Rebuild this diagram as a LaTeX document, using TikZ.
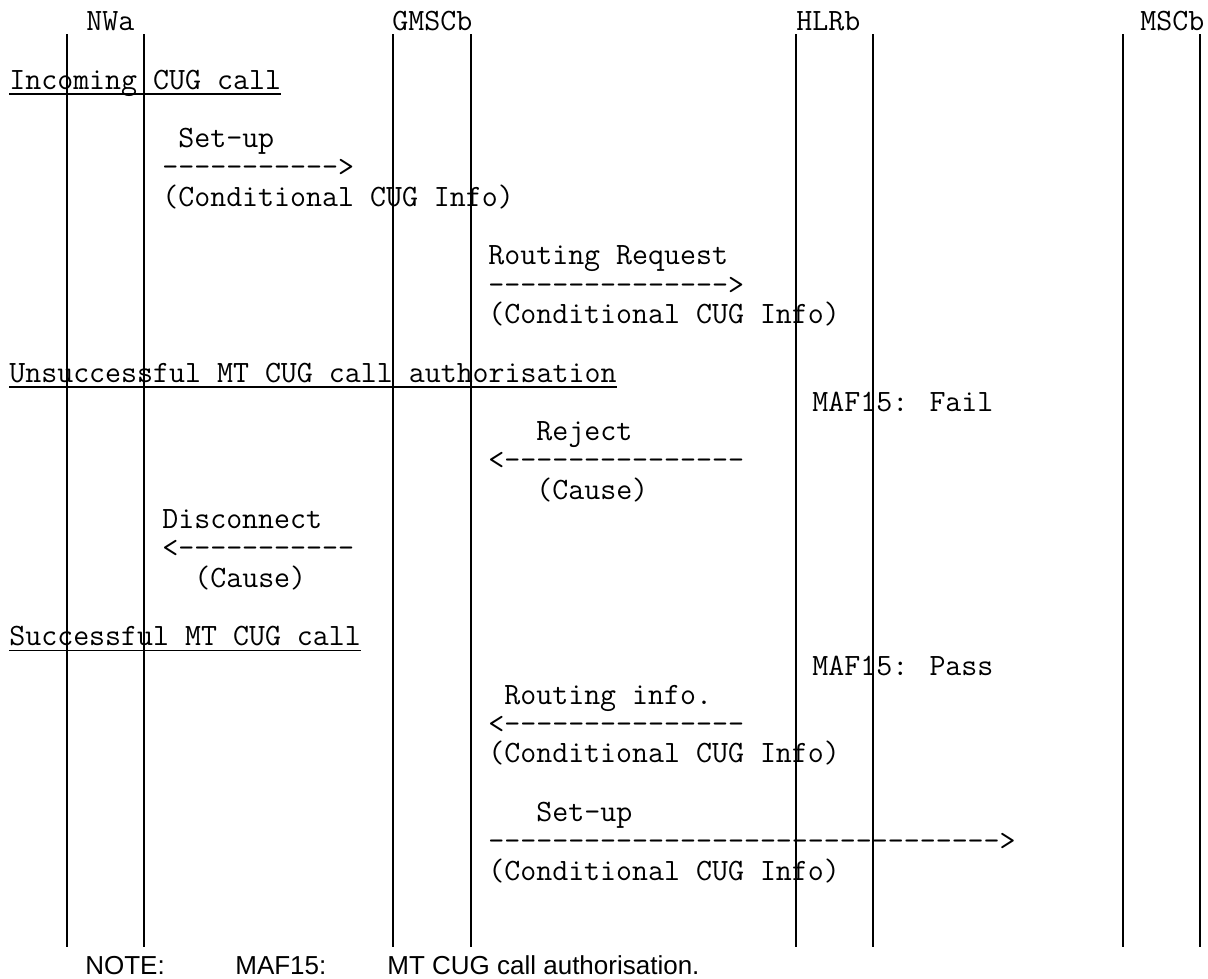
\documentclass[tikz,border=0pt]{standalone}
\usepackage{fontspec}
\newfontfamily\notefont{Liberation Sans}
\usepackage{tikz}
\usetikzlibrary{positioning}

\begin{document}
\begin{tikzpicture}[
        x=0.02cm, y=-0.02cm,
        lifeline/.style={line width=0.8pt},
        msg/.style={font=\ttfamily\fontsize{17.66}{20}\selectfont, inner sep=0pt, anchor=base west},
        notetext/.style={font=\notefont\fontsize{14.8}{18}\selectfont, inner sep=0pt, anchor=base west},
        uline/.style={line width=0.8pt}
    ]
        \useasboundingbox (0,0) rectangle (1208,978);

        % Lifelines
        \foreach \n/\x in {nwaL/67, nwaR/144, gmscL/393, gmscR/471, hlrL/796, hlrR/873, mscL/1123, mscR/1200} {
            \coordinate (\n-t) at (\x,34);
            \coordinate (\n-b) at (\x,947);
            \draw[lifeline] (\n-t) -- (\n-b);
        }

        % Entities
        \node[msg] (nwa) at (86,30) {NWa};
        \node[msg] (gmsc) at (392,30) {GMSCb};
        \node[msg] (hlr) at (796,30) {HLRb};
        \node[msg] (msc) at (1140,30) {MSCb};

        % Incoming CUG call
        \node[msg] (secIn) at (9,89) {Incoming CUG call};
        \draw[uline] ([yshift=-0.1cm]secIn.base west) -- ([yshift=-0.1cm]secIn.base east);
        \node[msg] (setupA) at (178,147.6) {Set-up};
        \node[msg] (setupA-arr) at (162,176.9) {----------->};
        \node[msg] (setupA-info) at (162,206.2) {(Conditional CUG Info)};
        \node[msg] (rreq) at (488,264.8) {Routing Request};
        \node[msg] (rreq-arr) at (488,294.1) {--------------->};
        \node[msg] (rreq-info) at (488,323.4) {(Conditional CUG Info)};

        % Unsuccessful authorisation
        \node[msg] (secFail) at (9,382) {Unsuccessful MT CUG call authorisation};
        \draw[uline] ([yshift=-0.1cm]secFail.base west) -- ([yshift=-0.1cm]secFail.base east);
        \node[msg] (fail) at (812,411.3) {MAF15: Fail};
        \node[msg] (rej) at (536,440.6) {Reject};
        \node[msg] (rej-arr) at (488,469.9) {<---------------};
        \node[msg] (rej-cause) at (536,499.2) {(Cause)};
        \node[msg] (disc) at (162,528.5) {Disconnect};
        \node[msg] (disc-arr) at (162,557.8) {<-----------};
        \node[msg] (disc-cause) at (194,587.1) {(Cause)};

        % Successful call
        \node[msg] (secOk) at (9,645.7) {Successful MT CUG call};
        \draw[uline] ([yshift=-0.1cm]secOk.base west) -- ([yshift=-0.1cm]secOk.base east);
        \node[msg] (pass) at (812,675) {MAF15: Pass};
        \node[msg] (rinfo) at (504,704.3) {Routing info.};
        \node[msg] (rinfo-arr) at (488,733.6) {<---------------};
        \node[msg] (rinfo-info) at (488,762.9) {(Conditional CUG Info)};
        \node[msg] (setupB) at (536,821.5) {Set-up};
        \node[msg] (setupB-arr) at (488,850.8) {-------------------------------->};
        \node[msg] (setupB-info) at (488,880.1) {(Conditional CUG Info)};

        % Note
        \node[notetext] (noteA) at (85,974) {NOTE:};
        \node[notetext] (noteB) at (235,974) {MAF15:};
        \node[notetext] (noteC) at (387,974) {MT CUG call authorisation.};
    \end{tikzpicture}
\end{document}
